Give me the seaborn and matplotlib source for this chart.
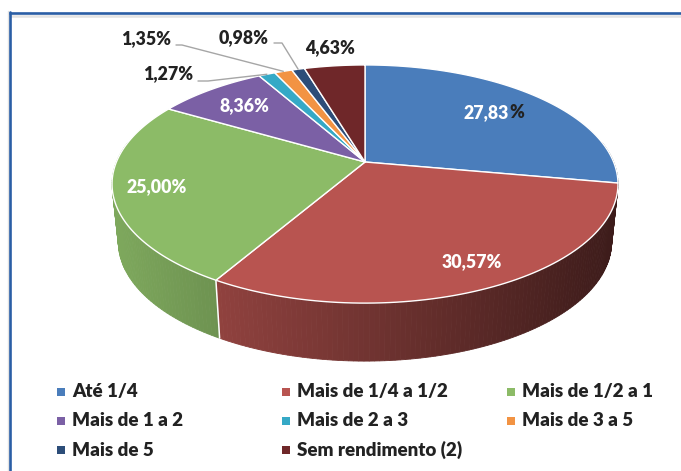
import numpy as np
import matplotlib
matplotlib.use("Agg")
import matplotlib.pyplot as plt
import seaborn as sns

# dados do grafico
categorias = ["Até 1/4", "Mais de 1/4 a 1/2", "Mais de 1/2 a 1", "Mais de 1 a 2",
              "Mais de 2 a 3", "Mais de 3 a 5", "Mais de 5", "Sem rendimento (2)"]
valores = [27.83, 30.57, 25.00, 8.36, 1.27, 1.35, 0.98, 4.63]
rotulos = ["27,83", "30,57%", "25,00%", "8,36%", "1,27%", "1,35%", "0,98%", "4,63%"]
cores = ["#4a7dbb", "#b85450", "#8cbb67", "#7b60a5", "#35a9c6", "#f29343", "#2c4d79", "#6f2729"]

sns.set_theme(style="white")
plt.rcParams["font.family"] = ["Lato", "DejaVu Sans"]
paleta = sns.color_palette(cores)

# parametros da perspectiva (pixels)
cx, cy = 365, 162
R, H, k = 248.6, 115, 0.185
prof = 58


def proj(graus):
    t = np.radians(graus)
    w = 1 + k * np.cos(t)
    return cx + R * np.sin(t) / w, cy - H * np.cos(t) / w


def base(x, y):
    return cx + (x - cx) * 0.975, y + prof


def sombra(x):
    return np.clip(0.9 - 0.001126 * (x - 112), 0.3, 1)


fig, ax = plt.subplots(figsize=(6.81, 4.71), dpi=100)
ax.set_position([0, 0, 1, 1])
ax.set_xlim(0, 681)
ax.set_ylim(471, 0)
ax.axis("off")

# moldura
ax.plot([8, 8], [11, 471], color="#e3e3e3", lw=1.0, zorder=1)
ax.plot([10, 681], [16, 16], color="#e3e3e3", lw=1.8, zorder=1)
ax.plot([10, 10], [12, 471], color="#2a5ea5", lw=1.9, zorder=1)
ax.plot([9, 681], [13, 13], color="#2a5ea5", lw=1.9, zorder=1, solid_capstyle="butt")

limites = np.concatenate([[0], np.cumsum(valores)]) * 360 / sum(valores)

# lateral da pizza
for i, cor in enumerate(paleta):
    ini, fim = max(limites[i], 80), min(limites[i + 1], 280)
    if fim <= ini:
        continue
    angs = np.arange(ini, fim + 1.0, 1.0)
    angs = np.append(angs[angs < fim], fim)
    for a, b in zip(angs[:-1], angs[1:]):
        x0, y0 = proj(a)
        x1, y1 = proj(b)
        x2, y2 = base(x1, y1)
        x3, y3 = base(x0, y0)
        c = np.array(cor) * sombra((x0 + x1) / 2)
        ax.fill([x0, x1, x2, x3], [y0, y1, y2, y3], color=c, lw=0.6, zorder=2)

# divisao branca na lateral
xa, ya = proj(limites[2])
xb, yb = base(xa, ya)
ax.plot([xa, xb], [ya, yb], color="white", lw=1.1, zorder=3)

# topo da pizza
for i, cor in enumerate(paleta):
    angs = np.linspace(limites[i], limites[i + 1], 80)
    xs, ys = proj(angs)
    ax.fill(np.r_[cx, xs], np.r_[cy, ys], facecolor=cor, edgecolor="white", lw=1.0,
            joinstyle="round", zorder=4)

# rotulos
fonte = dict(fontsize=12.8, fontweight="heavy", va="center", zorder=6)
ax.text(463, 113, rotulos[0], color="white", ha="left", **fonte)
ax.text(509, 113, "%", color="#222222", ha="left", **fonte)
ax.text(472, 262, rotulos[1], color="white", ha="center", **fonte)
ax.text(157, 187, rotulos[2], color="white", ha="center", **fonte)
ax.text(244, 106, rotulos[3], color="white", ha="center", **fonte)
ax.text(193, 74, rotulos[4], color="#222222", ha="right", **fonte)
ax.text(171, 39, rotulos[5], color="#222222", ha="right", **fonte)
ax.text(269, 38, rotulos[6], color="#222222", ha="right", **fonte)
ax.text(330, 48, rotulos[7], color="#222222", ha="center", **fonte)

# linhas de chamada
chamadas = [(4, [198, 208], 81), (5, [176, 182], 45), (6, [274, 282], 43)]
for i, xs, y in chamadas:
    xf, yf = proj((limites[i] + limites[i + 1]) / 2)
    ax.plot(xs + [xf], [y, y, yf], color="#a6a6a6", lw=1.0, zorder=5)

# legenda
marca_x = [61, 286, 511]
texto_x = [72, 297, 522]
lin_y = [392, 421, 450]
fonte_leg = dict(fonte, fontsize=13.5)
for i, (nome, cor) in enumerate(zip(categorias, paleta)):
    col, lin = i % 3, i // 3
    ax.scatter([marca_x[col]], [lin_y[lin]], marker="s", s=26, color=cor, lw=0, zorder=6)
    ax.text(texto_x[col], lin_y[lin], nome, color="#222222", ha="left", **fonte_leg)

fig.savefig("out.png", dpi=100, facecolor="white")
